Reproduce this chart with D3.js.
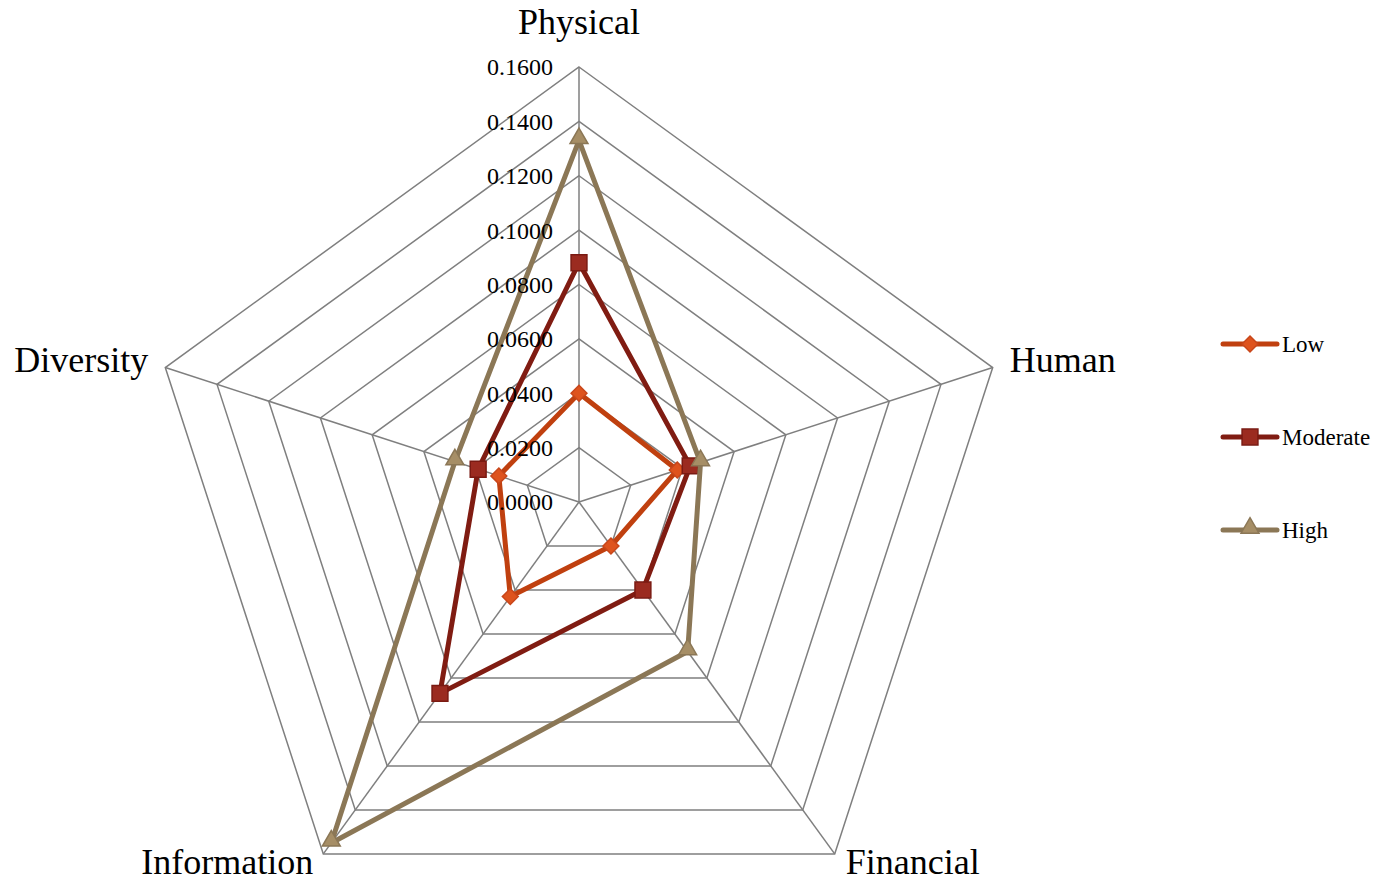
<!DOCTYPE html>
<html>
<head>
<meta charset="utf-8">
<script src="https://cdn.jsdelivr.net/npm/d3@7"></script>
<style>
  body { margin: 0; background: #fff; }
  text { font-family: "Liberation Serif", "DejaVu Serif", serif; fill: #000; }
</style>
</head>
<body>
<svg id="chart" width="1378" height="885"></svg>
<script>
// axes, clockwise from the top
var categories = ["Physical", "Human", "Financial", "Information", "Diversity"];
var seriesNames = ["Low", "Moderate", "High"];
var lowValues = [0.040, 0.038, 0.020, 0.043, 0.031];
var moderateValues = [0.088, 0.043, 0.040, 0.087, 0.039];
var highValues = [0.133, 0.047, 0.068, 0.155, 0.048];
var tickValues = [0, 0.02, 0.04, 0.06, 0.08, 0.10, 0.12, 0.14, 0.16];

var SERIES_STYLE = {
  "Low":      {line: "#c0400f", fill: "#de531d", stroke: "#c8461a", shape: "diamond"},
  "Moderate": {line: "#801c12", fill: "#9b2b20", stroke: "#7a1a12", shape: "square"},
  "High":     {line: "#8b7756", fill: "#a68e66", stroke: "#8b7756", shape: "triangle"}
};

var svg = d3.select("#chart");
var cx = 579, cy = 502, R = 435;

var r = d3.scaleLinear().domain([0, 0.16]).range([0, R]);
var angle = d3.scalePoint().domain(categories.concat(["_end"])).range([0, 2 * Math.PI]);

function pt(cat, v) {
  let a = angle(cat);
  return [cx + r(v) * Math.sin(a), cy - r(v) * Math.cos(a)];
}

var radial = d3.lineRadial()
  .angle(function(d) { return angle(d.cat); })
  .radius(function(d) { return r(d.v); })
  .curve(d3.curveLinearClosed);

var plot = svg.append("g").attr("transform", "translate(" + cx + "," + cy + ")");

// grid rings
plot.selectAll("path.ring")
  .data(tickValues.filter(function(t) { return t > 0; }))
  .enter().append("path")
  .attr("class", "ring")
  .attr("d", function(t) { return radial(categories.map(function(c) { return {cat: c, v: t}; })); })
  .attr("fill", "none")
  .attr("stroke", "#7f7f7f")
  .attr("stroke-width", 1.5);

// spokes
plot.selectAll("line.spoke")
  .data(categories)
  .enter().append("line")
  .attr("class", "spoke")
  .attr("x1", 0).attr("y1", 0)
  .attr("x2", function(c) { return pt(c, 0.16)[0] - cx; })
  .attr("y2", function(c) { return pt(c, 0.16)[1] - cy; })
  .attr("stroke", "#7f7f7f")
  .attr("stroke-width", 1.5);

// value labels along the top axis
svg.selectAll("text.tick")
  .data(tickValues)
  .enter().append("text")
  .attr("class", "tick")
  .attr("x", cx - 26)
  .attr("y", function(t) { return cy - r(t); })
  .attr("dy", "0.35em")
  .attr("text-anchor", "end")
  .style("font-size", "24px")
  .text(function(t) { return d3.format(".4f")(t); });

// category labels
var labelPos = {
  "Physical":    {dx: 0,   dy: -46, anchor: "middle"},
  "Human":       {dx: 17,  dy: -8,  anchor: "start"},
  "Financial":   {dx: 11,  dy: 7,   anchor: "start"},
  "Information": {dx: -10, dy: 7,   anchor: "end"},
  "Diversity":   {dx: -17, dy: -8,  anchor: "end"}
};
svg.selectAll("text.cat")
  .data(categories)
  .enter().append("text")
  .attr("class", "cat")
  .attr("x", function(c) { return pt(c, 0.16)[0] + labelPos[c].dx; })
  .attr("y", function(c) { return pt(c, 0.16)[1] + labelPos[c].dy; })
  .attr("dy", "0.35em")
  .attr("text-anchor", function(c) { return labelPos[c].anchor; })
  .style("font-size", "36px")
  .text(function(c) { return c; });

var symbolFor = {
  "diamond":  d3.symbol().type(d3.symbolDiamond2).size(160),
  "square":   d3.symbol().type(d3.symbolSquare2).size(320),
  "triangle": d3.symbol().type(d3.symbolTriangle2).size(230)
};

function drawMarker(g, name, x, y) {
  let st = SERIES_STYLE[name];
  let sym = symbolFor[st.shape];
  g.append("path")
    .attr("d", sym())
    .attr("transform", "translate(" + x + "," + (st.shape == "triangle" ? y - 2 : y) + ")")
    .attr("fill", st.fill)
    .attr("stroke", st.stroke)
    .attr("stroke-width", 1.5);
}

var seriesData = {"Low": lowValues, "Moderate": moderateValues, "High": highValues};

seriesNames.forEach(function(name) {
  let vals = seriesData[name];
  let pts = categories.map(function(c, i) { return {cat: c, v: vals[i]}; });
  let g = plot.append("g").attr("class", "series");
  g.append("path")
    .attr("d", radial(pts))
    .attr("fill", "none")
    .attr("stroke", SERIES_STYLE[name].line)
    .attr("stroke-width", 5)
    .attr("stroke-linejoin", "round");
  pts.forEach(function(p) {
    let xy = pt(p.cat, p.v);
    drawMarker(g, name, xy[0] - cx, xy[1] - cy);
  });
});

// legend
var legend = svg.append("g").attr("class", "legend");
seriesNames.forEach(function(name, i) {
  let y = 344 + i * 93;
  legend.append("line")
    .attr("x1", 1223).attr("x2", 1277)
    .attr("y1", y).attr("y2", y)
    .attr("stroke", SERIES_STYLE[name].line)
    .attr("stroke-width", 5)
    .attr("stroke-linecap", "round");
  drawMarker(legend, name, 1250, y);
  legend.append("text")
    .attr("x", 1282)
    .attr("y", y)
    .attr("dy", "0.35em")
    .style("font-size", "23px")
    .text(name);
});
</script>
</body>
</html>
